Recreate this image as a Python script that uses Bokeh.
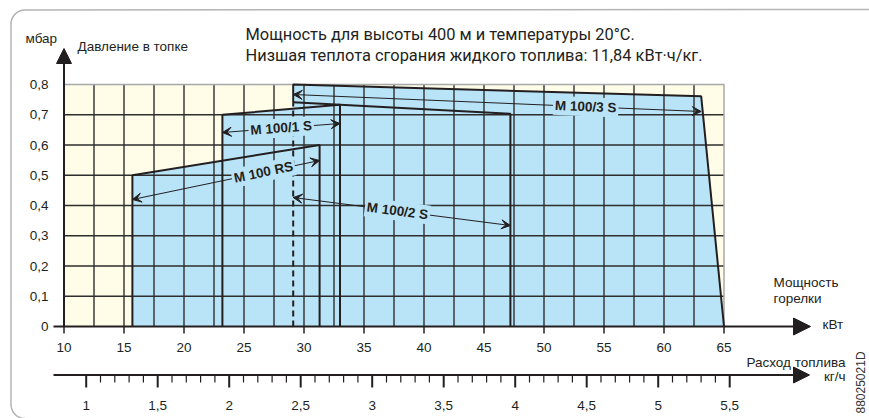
import numpy as np
from bokeh.plotting import figure
from bokeh.models import Range1d, Arrow, NormalHead, VeeHead, Label, ColumnDataSource
from bokeh.core.properties import value
from bokeh.embed import file_html
from bokeh.resources import INLINE

# ---------------- data ----------------
models = ["M 100 RS", "M 100/1 S", "M 100/2 S", "M 100/3 S"]
rs_kw = [15.7, 15.7, 31.3, 31.3]
rs_mbar = [0.0, 0.50, 0.60, 0.0]
s1_kw = [23.2, 23.2, 33.0, 33.0]
s1_mbar = [0.0, 0.70, 0.733, 0.0]
s2_kw = [29.1, 29.1, 47.2, 47.2]
s2_mbar = [0.0, 0.741, 0.703, 0.0]
s3_kw = [29.1, 29.1, 63.1, 65.0]
s3_mbar = [0.0, 0.80, 0.761, 0.0]

kw_ticks = [10, 15, 20, 25, 30, 35, 40, 45, 50, 55, 60, 65]
kw_tick_labels = ["10", "15", "20", "25", "30", "35", "40", "45", "50", "55", "60", "65"]
mbar_ticks = [0.0, 0.1, 0.2, 0.3, 0.4, 0.5, 0.6, 0.7, 0.8]
mbar_tick_labels = ["0", "0,1", "0,2", "0,3", "0,4", "0,5", "0,6", "0,7", "0,8"]
fuel_ticks = [1.0, 1.5, 2.0, 2.5, 3.0, 3.5, 4.0, 4.5, 5.0, 5.5]
fuel_tick_labels = ["1", "1,5", "2", "2,5", "3", "3,5", "4", "4,5", "5", "5,5"]

# ---------------- layout ----------------
W, H = 869, 418
PX_KW = 12.0              # pixels per kW
PX_MB = 302.5             # pixels per mbar
PX_KG = 143.0             # pixels per kg/h
X0, Y0, XKG = 63.5, 326.0, 85.7   # canvas px of kW=10, mbar=0, kg=1

def ix(px):  # canvas px -> kW
    return 10 + (px - X0) / PX_KW

def iy(py):  # canvas px (from top) -> mbar
    return (Y0 - py) / PX_MB

INK = "#231f20"
BLUE = "#b9e3f7"
CREAM = "#fffce8"
GRID = "#2e2e2e"
EDGE = "#a8a8a8"
SANS = value("Liberation Sans")

p = figure(width=W, height=H,
           x_range=Range1d(10 - X0 / PX_KW, 10 + (W - X0) / PX_KW),
           y_range=Range1d(-(H - Y0) / PX_MB, Y0 / PX_MB),
           output_backend="svg", toolbar_location=None,
           x_axis_type=None, y_axis_type=None, min_border=0,
           outline_line_color=None)
p.extra_x_ranges = {"kg": Range1d(1 - XKG / PX_KG, 1 + (W - XKG) / PX_KG)}
p.background_fill_color = "white"
p.border_fill_color = "white"

# rounded frame decoration
ang_t = np.linspace(0, np.pi / 2, 16)
fx = ([ix(900)] + [ix(24.5 - 14 * np.sin(a)) for a in ang_t]
      + [ix(24.5 - 14 * np.cos(a)) for a in ang_t])
fy = ([iy(9)] + [iy(23.5 - 14 * np.cos(a)) for a in ang_t]
      + [iy(404 + 14 * np.sin(a)) for a in ang_t])
p.line(fx, fy, line_color="#b4b4b4", line_width=1.5)

# chart background and operating envelopes
p.quad(left=kw_ticks[0], right=kw_ticks[-1], bottom=mbar_ticks[0], top=mbar_ticks[-1],
       fill_color=CREAM, line_color=None)
p.patches(xs=[rs_kw, s1_kw, s2_kw, s3_kw], ys=[rs_mbar, s1_mbar, s2_mbar, s3_mbar],
          fill_color=BLUE, line_color=None)

# grid, drawn after the envelopes
gx = np.arange(kw_ticks[0] + 2.5, kw_ticks[-1], 2.5)
p.segment(x0=gx, y0=mbar_ticks[0], x1=gx, y1=mbar_ticks[-1], line_color=GRID,
          line_width=1.4)
gy = mbar_ticks[1:-1]
p.segment(x0=kw_ticks[0], y0=gy, x1=kw_ticks[-1], y1=gy, line_color=GRID, line_width=1.4)
p.line([kw_ticks[0], kw_ticks[-1], kw_ticks[-1]], [mbar_ticks[-1], mbar_ticks[-1], 0],
       line_color=EDGE, line_width=1.5)

# outlines
p.line(rs_kw, rs_mbar, line_color=INK, line_width=2)
p.line(s1_kw, s1_mbar, line_color=INK, line_width=2)
p.line(s2_kw[1:], s2_mbar[1:], line_color=INK, line_width=2)
p.line(s2_kw[:2], s2_mbar[:2], line_color=INK, line_width=2, line_dash="6 4")
p.line([s3_kw[1]] + s3_kw[1:], [s2_mbar[1]] + s3_mbar[1:], line_color=INK, line_width=2)

# axes
p.add_layout(Arrow(x_start=ix(53), y_start=0, x_end=ix(810), y_end=0, line_color=INK,
                   line_width=2, end=NormalHead(size=17, fill_color=INK, line_color=INK)))
p.add_layout(Arrow(x_start=kw_ticks[0], y_start=0, x_end=kw_ticks[0], y_end=iy(48), line_color=INK,
                   line_width=2, end=NormalHead(size=15, fill_color=INK, line_color=INK)))
p.segment(x0=kw_ticks, y0=0, x1=kw_ticks, y1=iy(333), line_color=INK, line_width=1.5)
p.text(x=kw_ticks, y=iy(347), text=kw_tick_labels, text_font=SANS, text_font_size="13.5px",
       text_align="center", text_baseline="middle", text_color=INK)
p.text(x=ix(48), y=mbar_ticks, text=mbar_tick_labels, text_font=SANS, text_font_size="13.5px",
       text_align="right", text_baseline="middle", text_color=INK)

# fuel axis
fy0 = iy(374.5)
p.add_layout(Arrow(x_start=ix(53), y_start=fy0, x_end=ix(809), y_end=fy0, line_color=INK,
                   line_width=2, end=NormalHead(size=16, fill_color=INK, line_color=INK)))
minor = [round(v, 1) for v in np.arange(fuel_ticks[0], fuel_ticks[-1] + 0.01, 0.1)
         if round(v, 1) not in fuel_ticks]
p.segment(x0=minor, y0=fy0, x1=minor, y1=iy(382), line_color=INK, line_width=1.2,
          x_range_name="kg")
p.segment(x0=fuel_ticks, y0=fy0, x1=fuel_ticks, y1=iy(387), line_color=INK, line_width=2,
          x_range_name="kg")
p.text(x=fuel_ticks, y=iy(405), text=fuel_tick_labels, text_font=SANS, text_font_size="13.5px",
       text_align="center", text_baseline="middle", text_color=INK, x_range_name="kg")

# range annotations
ann = [
    (models[0], rs_kw[0], iy(199), rs_kw[2], iy(160), 0.70),
    (models[1], s1_kw[0], iy(132), s1_kw[2], iy(123), 0.50),
    (models[2], s2_kw[0], iy(197), s2_kw[2], iy(225), 0.48),
    (models[3], s3_kw[0], iy(94), s3_kw[2], iy(111), 0.717),
]
for name, xa, ya, xb, yb, t in ann:
    p.add_layout(Arrow(x_start=xa, y_start=ya, x_end=xb, y_end=yb, line_color=INK, line_width=1,
                       start=VeeHead(size=9, fill_color=INK, line_color=INK, line_width=1),
                       end=VeeHead(size=9, fill_color=INK, line_color=INK, line_width=1)))
for name, xa, ya, xb, yb, t in ann:
    angle = float(np.arctan2((yb - ya) * PX_MB, (xb - xa) * PX_KW))
    p.add_layout(Label(x=xa + t * (xb - xa), y=ya + t * (yb - ya), text=name, angle=angle,
                       text_font="Liberation Sans", text_font_size="13.5px",
                       text_font_style="bold", text_align="center", text_baseline="middle",
                       text_color=INK, background_fill_color=BLUE, padding=2))

# texts
def txt(x, y, s, align="left", size="13.5px", font=SANS, color=INK, angle=0.0):
    p.text(x=[x], y=[y], text=[s], text_font=font, text_font_size=size, text_align=align,
           text_baseline="middle", text_color=color, angle=angle)

TF = value("Roboto")
txt(ix(245), iy(34), "Мощность для высоты 400 м и температуры 20°C.", size="16.4px", font=TF)
txt(ix(245), iy(55), "Низшая теплота сгорания жидкого топлива: 11,84 кВт·ч/кг.", size="16.4px", font=TF)
txt(ix(25), iy(38), "мбар")
txt(ix(77), iy(46), "Давление в топке")
txt(ix(773), iy(282), "Мощность")
txt(ix(773), iy(298), "горелки")
txt(ix(822), iy(324), "кВт")
txt(ix(845), iy(362), "Расход топлива", align="right")
txt(ix(845), iy(376), "кг/ч", align="right")
txt(ix(860), iy(413), "88025021D", size="12px", color="#333333", angle=np.pi / 2)

open("out.html", "w").write(file_html(p, INLINE))
